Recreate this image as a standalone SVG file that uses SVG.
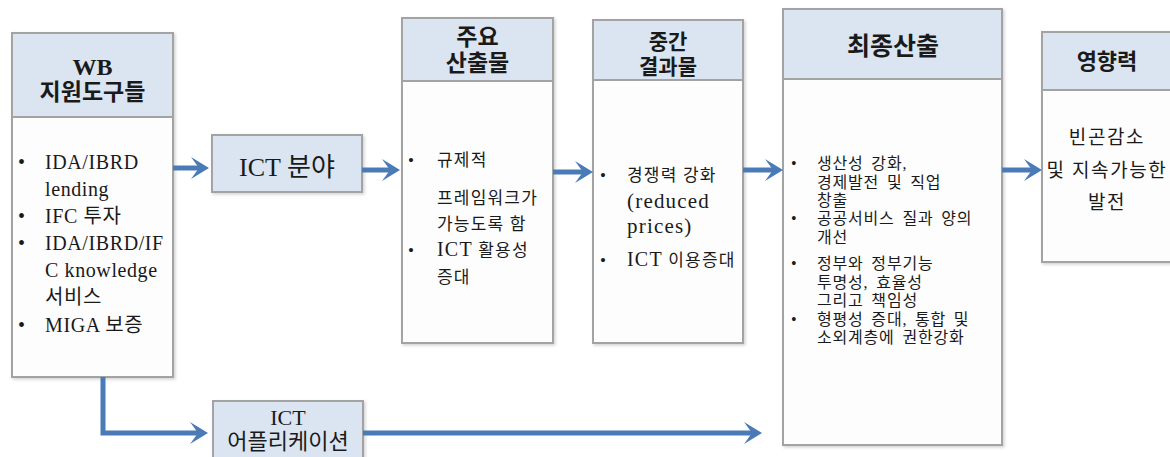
<svg xmlns="http://www.w3.org/2000/svg" width="1170" height="457" viewBox="0 0 1170 457">
<defs>
<marker id="ah" markerUnits="userSpaceOnUse" markerWidth="20" markerHeight="24" refX="8" refY="11" orient="auto">
<path d="M0,0 L18,11 L0,22 L8,11 z" fill="#4a7bb7"/>
</marker>
<filter id="sh" x="-5%" y="-5%" width="115%" height="115%">
<feDropShadow dx="1.5" dy="1.5" stdDeviation="1.5" flood-color="#000" flood-opacity="0.18"/>
</filter>
</defs>
<style>
.box{fill:#fdfdfd;stroke:#a3a3a3;stroke-width:2;filter:url(#sh)}
.hdr{fill:#dbe5f1;stroke:#a3a3a3;stroke-width:2}
.t{font-family:"Liberation Serif","Noto Sans CJK KR",serif;fill:#1a1a1a}
.h{font-weight:bold;text-anchor:middle}
.c{text-anchor:middle}
.b{font-size:17px;letter-spacing:1.2px}
.f{font-size:16px;letter-spacing:0.8px;word-spacing:3px}
.conn{fill:none;stroke:#4a7bb7;stroke-width:5;marker-end:url(#ah)}
</style>
<rect width="1170" height="457" fill="#ffffff"/>

<g id="wb">
<rect class="box" x="12" y="33" width="161" height="344"/>
<rect class="hdr" x="12" y="33" width="161" height="84"/>
<text class="t h" x="92.5" y="75" font-size="24">WB</text>
<text class="t h" x="92.5" y="100" font-size="23">지원도구들</text>
<g class="t" font-size="20" letter-spacing="0.6">
<text x="18" y="169">•</text><text x="45" y="169">IDA/IBRD</text>
<text x="45" y="196">lending</text>
<text x="18" y="223">•</text><text x="45" y="223">IFC 투자</text>
<text x="18" y="250">•</text><text x="45" y="250">IDA/IBRD/IF</text>
<text x="45" y="277">C knowledge</text>
<text x="45" y="304">서비스</text>
<text x="18" y="332">•</text><text x="45" y="332">MIGA 보증</text>
</g>
</g>

<g id="ict-sector">
<rect class="hdr" x="212" y="135" width="150" height="57" filter="url(#sh)"/>
<text class="t c" x="287" y="176" font-size="26">ICT 분야</text>
</g>

<g id="main-outputs">
<rect class="box" x="402" y="18" width="151" height="325"/>
<rect class="hdr" x="402" y="18" width="151" height="63"/>
<text class="t h" x="477.5" y="45" font-size="23">주요</text>
<text class="t h" x="477.5" y="71" font-size="23">산출물</text>
<g class="t b">
<text x="408" y="166">•</text><text x="437" y="166">규제적</text>
<text x="437" y="204">프레임워크가</text>
<text x="437" y="230">가능도록 함</text>
<text x="408" y="256">•</text><text x="437" y="256"><tspan font-size="20">ICT</tspan> 활용성</text>
<text x="437" y="283">증대</text>
</g>
</g>

<g id="intermediate">
<rect class="box" x="593" y="20" width="150" height="323"/>
<rect class="hdr" x="593" y="20" width="150" height="60"/>
<text class="t h" x="668" y="49" font-size="21">중간</text>
<text class="t h" x="668" y="74" font-size="21">결과물</text>
<g class="t b">
<text x="600" y="181">•</text><text x="627" y="181">경쟁력 강화</text>
<text x="627" y="208" font-size="21">(reduced</text>
<text x="627" y="233" font-size="21">prices)</text>
<text x="600" y="266">•</text><text x="627" y="266"><tspan font-size="20">ICT</tspan> 이용증대</text>
</g>
</g>

<g id="final">
<rect class="box" x="783" y="9" width="219" height="436"/>
<rect class="hdr" x="783" y="9" width="219" height="70"/>
<text class="t h" x="893" y="55" font-size="25">최종산출</text>
<g class="t f">
<text x="791" y="169">•</text><text x="817" y="169">생산성 강화,</text>
<text x="817" y="188">경제발전 및 직업</text>
<text x="817" y="206">창출</text>
<text x="791" y="224">•</text><text x="817" y="224">공공서비스 질과 양의</text>
<text x="817" y="243">개선</text>
<text x="791" y="269">•</text><text x="817" y="269">정부와 정부기능</text>
<text x="817" y="288">투명성, 효율성</text>
<text x="817" y="306">그리고 책임성</text>
<text x="791" y="325">•</text><text x="817" y="325">형평성 증대, 통합 및</text>
<text x="817" y="343">소외계층에 권한강화</text>
</g>
</g>

<g id="impact">
<rect class="box" x="1042" y="32" width="132" height="230"/>
<rect class="hdr" x="1042" y="32" width="132" height="58"/>
<text class="t h" x="1107" y="69" font-size="22">영향력</text>
<g class="t c" font-size="19" letter-spacing="1.6">
<text x="1107" y="144">빈곤감소</text>
<text x="1107" y="177">및 지속가능한</text>
<text x="1107" y="209">발전</text>
</g>
</g>

<g id="ict-apps">
<rect class="hdr" x="213" y="401" width="150" height="60" filter="url(#sh)"/>
<text class="t c" x="288" y="425" font-size="22">ICT</text>
<text class="t c" x="288" y="449" font-size="22">어플리케이션</text>
</g>

<g id="connectors">
<path class="conn" d="M173,168 L199,168"/>
<path class="conn" d="M362,170 L390,170"/>
<path class="conn" d="M553,172 L583,172"/>
<path class="conn" d="M743,170 L773,170"/>
<path class="conn" d="M1002,170 L1032,170"/>
<path class="conn" d="M103,377 L103,433 L198,433"/>
<path class="conn" d="M363,433 L752,433"/>
</g>
</svg>
